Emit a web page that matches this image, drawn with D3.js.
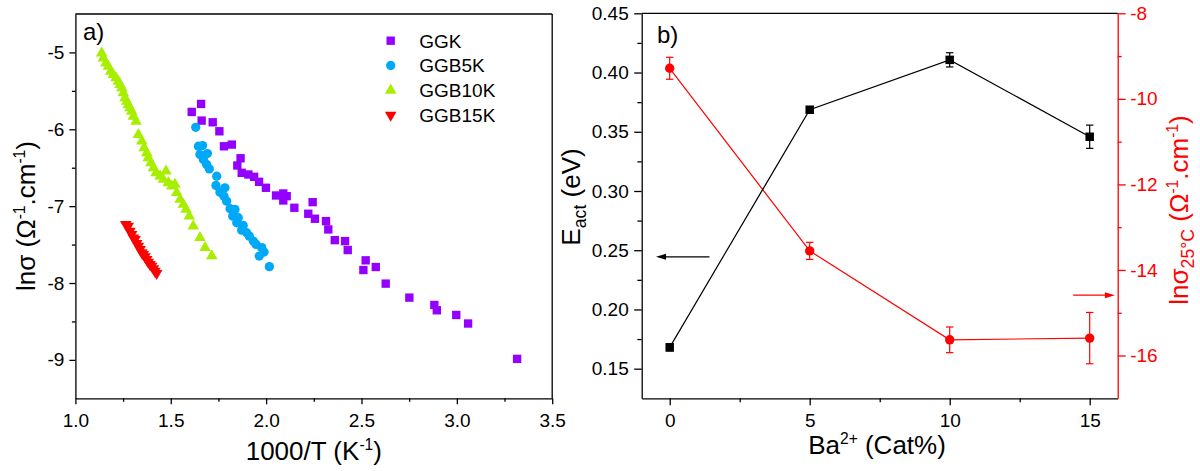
<!DOCTYPE html>
<html><head><meta charset="utf-8">
<script src="https://cdn.jsdelivr.net/npm/d3@7"></script>
<style>html,body{margin:0;padding:0;background:#fff;} svg{display:block;font-family:"Liberation Sans",Arial,sans-serif;}</style>
</head><body><svg id="c" width="1200" height="471"></svg>
<script>
// ---------------- DATA ----------------
// Panel a: ln(sigma) vs 1000/T
const GGK = [[1.610,-5.774],[1.659,-5.670],[1.662,-5.887],[1.720,-5.909],[1.755,-6.026],[1.779,-6.221],[1.820,-6.199],[1.866,-6.377],[1.849,-6.471],[1.872,-6.566],[1.907,-6.588],[1.937,-6.618],[1.963,-6.683],[1.999,-6.761],[2.052,-6.861],[2.090,-6.835],[2.090,-6.926],[2.108,-6.870],[2.148,-7.021],[2.221,-7.099],[2.244,-6.948],[2.256,-7.164],[2.314,-7.195],[2.326,-7.303],[2.360,-7.442],[2.414,-7.455],[2.428,-7.571],[2.522,-7.705],[2.510,-7.831],[2.575,-7.792],[2.627,-8.008],[2.751,-8.190],[2.882,-8.286],[2.895,-8.355],[2.997,-8.416],[3.059,-8.527],[3.316,-8.987]];
const GGB5K = [[1.631,-5.974],[1.645,-6.221],[1.667,-6.212],[1.653,-6.329],[1.692,-6.316],[1.671,-6.394],[1.688,-6.458],[1.702,-6.515],[1.741,-6.610],[1.737,-6.731],[1.784,-6.761],[1.758,-6.818],[1.779,-6.870],[1.793,-6.935],[1.811,-7.034],[1.837,-7.043],[1.825,-7.130],[1.854,-7.151],[1.846,-7.216],[1.880,-7.251],[1.872,-7.312],[1.898,-7.345],[1.912,-7.390],[1.933,-7.455],[1.947,-7.497],[1.977,-7.540],[1.989,-7.597],[1.964,-7.649],[2.017,-7.787]];
const GGB10K = [[1.138,-5.008],[1.146,-5.073],[1.160,-5.138],[1.173,-5.182],[1.185,-5.247],[1.199,-5.290],[1.213,-5.333],[1.225,-5.377],[1.234,-5.419],[1.243,-5.462],[1.251,-5.527],[1.260,-5.592],[1.269,-5.636],[1.277,-5.679],[1.286,-5.722],[1.295,-5.766],[1.304,-5.831],[1.318,-5.896],[1.330,-6.069],[1.348,-6.156],[1.360,-6.242],[1.374,-6.306],[1.382,-6.371],[1.396,-6.436],[1.409,-6.501],[1.423,-6.566],[1.444,-6.610],[1.461,-6.653],[1.475,-6.545],[1.487,-6.696],[1.505,-6.740],[1.522,-6.718],[1.531,-6.826],[1.549,-6.913],[1.566,-6.978],[1.580,-7.043],[1.597,-7.130],[1.618,-7.260],[1.653,-7.410],[1.680,-7.540],[1.715,-7.649]];
const GGB15K = [[1.264,-7.238],[1.277,-7.260],[1.286,-7.325],[1.295,-7.368],[1.304,-7.411],[1.313,-7.432],[1.321,-7.484],[1.330,-7.519],[1.339,-7.562],[1.348,-7.605],[1.356,-7.627],[1.365,-7.657],[1.374,-7.692],[1.382,-7.727],[1.391,-7.757],[1.400,-7.779],[1.409,-7.813],[1.417,-7.844],[1.426,-7.874]];
const seriesNames = ["GGK","GGB5K","GGB10K","GGB15K"];
const xTicksA = [1.0,1.5,2.0,2.5,3.0,3.5];
const xMinorA = [1.25,1.75,2.25,2.75,3.25];
const yTicksA = [-9,-8,-7,-6,-5];
const yMinorA = [-8.5,-7.5,-6.5,-5.5];

// Panel b: Eact and ln(sigma 25C) vs Ba2+ content
const baPercent = [0,5,10,15];
const eact = [0.168,0.3686,0.4107,0.3458];
const eactErr = [0.003,0.002,0.006,0.0098];
const lnSigma25 = [-9.285,-13.554,-15.633,-15.593];
const lnSigma25Err = [0.257,0.20,0.30,0.60];
const xTicksB = [0,5,10,15];
const xMinorB = [2.5,7.5,12.5];
const yTicksBL = [0.15,0.20,0.25,0.30,0.35,0.40,0.45];
const yMinorBL = [0.175,0.225,0.275,0.325,0.375,0.425];
const yTicksBR = [-16,-14,-12,-10,-8];
const yMinorBR = [-15,-13,-11,-9];
// arrow annotations (data units): [xStart, xEnd, y]
const arrowEact = [1.42,-0.49,0.2444];
const arrowSigma = [14.41,15.9,-14.59];

// ---------------- DRAWING ----------------
const svg = d3.select("#c");
svg.append("rect").attr("width",1200).attr("height",471).attr("fill","#fff");
const FONT_TICK = 19, FONT_TITLE = 26;
const col = {GGK:"#9400ff",GGB5K:"#00a9f7",GGB10K:"#a8ee00",GGB15K:"#ff0000"};

const xA = d3.scaleLinear([1,3.5],[75.4,552.2]);
const yA = d3.scaleLinear([-9.5,-4.5],[398.3,14]);
const xB = d3.scaleLinear([-1,16],[641.7,1117.7]);
const yBL = d3.scaleLinear([0.125,0.45],[398.3,13.3]);
const yBR = d3.scaleLinear([-17,-8],[398.3,13.3]);

function styleAxis(g,color){
  g.attr("font-size",FONT_TICK).attr("font-family","'Liberation Sans',Arial,sans-serif");
  g.selectAll("path,line").attr("stroke",color).attr("stroke-width",1.3);
  g.selectAll("text").attr("fill",color);
}
function minor(axisFn,scale,vals,size,tx,ty,color){
  const g = svg.append("g").attr("transform",`translate(${tx},${ty})`)
    .call(axisFn(scale).tickValues(vals).tickSize(size).tickFormat(()=>""));
  g.select(".domain").remove();
  g.selectAll("line").attr("stroke",color).attr("stroke-width",1.3);
}
const fmtInt = d=>String(d);

// ---- Panel a axes
let g;
g = svg.append("g").attr("transform",`translate(0,${yA.range()[0]})`)
  .call(d3.axisBottom(xA).tickValues(xTicksA).tickSize(6).tickSizeOuter(0).tickPadding(9.5).tickFormat(d=>d.toFixed(1)));
styleAxis(g,"#000");
minor(d3.axisBottom,xA,xMinorA,3.5,0,yA.range()[0],"#000");
g = svg.append("g").attr("transform",`translate(${xA.range()[0]},0)`)
  .call(d3.axisLeft(yA).tickValues(yTicksA).tickSize(6).tickSizeOuter(0).tickPadding(5).tickFormat(fmtInt));
styleAxis(g,"#000");
minor(d3.axisLeft,yA,yMinorA,3.5,xA.range()[0],0,"#000");
// frame top & right
svg.append("line").attr("x1",xA.range()[0]).attr("x2",xA.range()[1]).attr("y1",yA.range()[1]).attr("y2",yA.range()[1]).attr("stroke","#000").attr("stroke-width",1.3);
svg.append("line").attr("x1",xA.range()[1]).attr("x2",xA.range()[1]).attr("y1",yA.range()[1]).attr("y2",yA.range()[0]).attr("stroke","#000").attr("stroke-width",1.3);

// ---- Panel a data
const symSize = {GGK:70, GGB5K:68, GGB10K:58, GGB15K:58};
const symType = {GGK:d3.symbolSquare, GGB5K:d3.symbolCircle, GGB10K:d3.symbolTriangle, GGB15K:d3.symbolTriangle};
const symRot = {GGK:0,GGB5K:0,GGB10K:0,GGB15K:180};
const dataA = {GGK, GGB5K, GGB10K, GGB15K};
seriesNames.forEach(name=>{
  const path = d3.symbol().type(symType[name]).size(symSize[name])();
  svg.append("g").selectAll("path").data(dataA[name]).join("path")
    .attr("d",path)
    .attr("transform",d=>`translate(${xA(d[0])},${yA(d[1])}) rotate(${symRot[name]})`)
    .attr("fill",col[name]);
});
// legend
const leg = svg.append("g");
seriesNames.forEach((name,i)=>{
  const cy = 40.7 + i*24.8;
  leg.append("path").attr("d",d3.symbol().type(symType[name]).size(symSize[name])())
    .attr("transform",`translate(390.7,${cy}) rotate(${symRot[name]})`).attr("fill",col[name]);
  leg.append("text").attr("x",419.3).attr("y",cy+6.8).attr("font-size",19).attr("fill","#000").text(name);
});
svg.append("text").attr("x",83).attr("y",40).attr("font-size",24).text("a)");

// rich text helper
function rich(sel,parts,size){
  let shift=0;
  parts.forEach(p=>{
    const t = sel.append("tspan").text(p.t);
    let target = 0, fs=size;
    if(p.sup){ target=-0.38*size; fs=size*0.6; }
    if(p.sub){ target=0.22*size; fs=size*0.68; }
    t.attr("font-size",fs).attr("dy",target-shift);
    shift=target;
  });
}
// panel a titles
let tx = svg.append("text").attr("x",xA(2.25)).attr("y",460).attr("text-anchor","middle").attr("font-size",FONT_TITLE);
rich(tx,[{t:"1000/T (K"},{t:"-1",sup:true},{t:")"}],FONT_TITLE);
tx = svg.append("text").attr("transform","translate(35,216) rotate(-90)").attr("text-anchor","middle").attr("font-size",FONT_TITLE);
rich(tx,[{t:"lnσ (Ω"},{t:"-1",sup:true},{t:".cm"},{t:"-1",sup:true},{t:")"}],FONT_TITLE);

// ---- Panel b axes
g = svg.append("g").attr("transform",`translate(0,${yBL.range()[0]})`)
  .call(d3.axisBottom(xB).tickValues(xTicksB).tickSize(7).tickSizeOuter(0).tickPadding(8.5).tickFormat(fmtInt));
styleAxis(g,"#000");
minor(d3.axisBottom,xB,xMinorB,4,0,yBL.range()[0],"#000");
g = svg.append("g").attr("transform",`translate(${xB.range()[0]},0)`)
  .call(d3.axisLeft(yBL).tickValues(yTicksBL).tickSize(7.5).tickSizeOuter(0).tickPadding(5.5).tickFormat(d=>d.toFixed(2)));
styleAxis(g,"#000");
minor(d3.axisLeft,yBL,yMinorBL,4.3,xB.range()[0],0,"#000");
g = svg.append("g").attr("transform",`translate(${xB.range()[1]},0)`)
  .call(d3.axisRight(yBR).tickValues(yTicksBR).tickSize(8).tickSizeOuter(0).tickPadding(4.5).tickFormat(fmtInt));
styleAxis(g,"#ff0000");
minor(d3.axisRight,yBR,yMinorBR,4,xB.range()[1],0,"#ff0000");
svg.append("line").attr("x1",xB.range()[0]).attr("x2",xB.range()[1]).attr("y1",yBL.range()[1]).attr("y2",yBL.range()[1]).attr("stroke","#000").attr("stroke-width",1.3);

// ---- Panel b data
function errBars(xs,ys,es,ys_scale,color){
  const gg = svg.append("g").attr("stroke",color).attr("stroke-width",1.2);
  xs.forEach((x,i)=>{
    const px = xB(x), y1 = ys_scale(ys[i]-es[i]), y2 = ys_scale(ys[i]+es[i]);
    gg.append("line").attr("x1",px).attr("x2",px).attr("y1",y1).attr("y2",y2);
    gg.append("line").attr("x1",px-3.7).attr("x2",px+3.7).attr("y1",y1).attr("y2",y1);
    gg.append("line").attr("x1",px-3.7).attr("x2",px+3.7).attr("y1",y2).attr("y2",y2);
  });
}
// red series
svg.append("path").datum(baPercent.map((x,i)=>[x,lnSigma25[i]]))
  .attr("d",d3.line().x(d=>xB(d[0])).y(d=>yBR(d[1]))).attr("fill","none").attr("stroke","#ff0000").attr("stroke-width",1.2);
errBars(baPercent,lnSigma25,lnSigma25Err,yBR,"#ff0000");
svg.append("g").selectAll("circle").data(baPercent).join("circle")
  .attr("cx",d=>xB(d)).attr("cy",(d,i)=>yBR(lnSigma25[i])).attr("r",4.7).attr("fill","#ff0000");
// black series
svg.append("path").datum(baPercent.map((x,i)=>[x,eact[i]]))
  .attr("d",d3.line().x(d=>xB(d[0])).y(d=>yBL(d[1]))).attr("fill","none").attr("stroke","#000").attr("stroke-width",1.2);
errBars(baPercent,eact,eactErr,yBL,"#000");
svg.append("g").selectAll("path").data(baPercent).join("path")
  .attr("d",d3.symbol().type(d3.symbolSquare).size(72)())
  .attr("transform",(d,i)=>`translate(${xB(d)},${yBL(eact[i])})`).attr("fill","#000");

// arrows
function arrow(a,ys,color){
  const x1 = xB(a[0]), x2 = xB(a[1]), y = ys(a[2]);
  const dir = Math.sign(x2-x1), L=10, hw=3;
  svg.append("line").attr("x1",x1).attr("x2",x2-dir*L*0.6).attr("y1",y).attr("y2",y).attr("stroke",color).attr("stroke-width",1.3);
  svg.append("path").attr("d",`M${x2},${y}L${x2-dir*L},${y-hw}L${x2-dir*L},${y+hw}Z`).attr("fill",color);
}
arrow(arrowEact,yBL,"#000");
arrow(arrowSigma,yBR,"#ff0000");

svg.append("text").attr("x",657).attr("y",42.5).attr("font-size",24).text("b)");

// panel b titles
tx = svg.append("text").attr("x",877).attr("y",454).attr("text-anchor","middle").attr("font-size",FONT_TITLE);
rich(tx,[{t:"Ba"},{t:"2+",sup:true},{t:" (Cat%)"}],FONT_TITLE);
tx = svg.append("text").attr("transform","translate(580,197) rotate(-90)").attr("text-anchor","middle").attr("font-size",FONT_TITLE);
rich(tx,[{t:"E"},{t:"act",sub:true},{t:" (eV)"}],FONT_TITLE);
tx = svg.append("text").attr("transform","translate(1188,210) rotate(-90)").attr("text-anchor","middle").attr("font-size",FONT_TITLE).attr("fill","#ff0000");
rich(tx,[{t:"lnσ"},{t:"25°C",sub:true},{t:" (Ω"},{t:"-1",sup:true},{t:".cm"},{t:"-1",sup:true},{t:")"}],FONT_TITLE);
</script></body></html>
